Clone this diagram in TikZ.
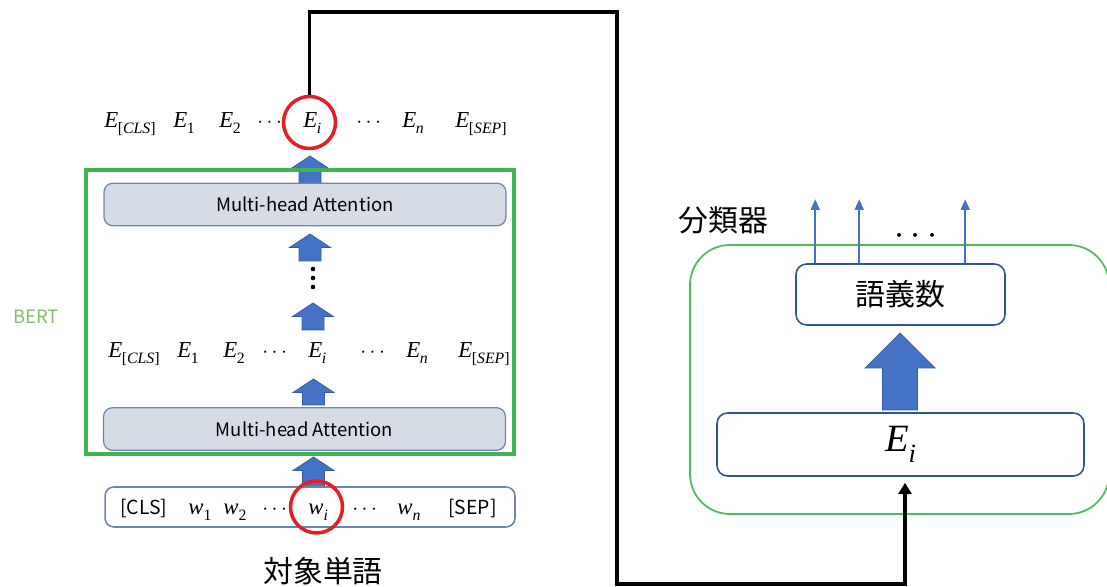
\documentclass[tikz,border=0pt]{standalone}
\usepackage{fontspec}
\setmainfont{Liberation Serif}
\newfontfamily\jpfont{Noto Sans CJK JP}
\usetikzlibrary{arrows.meta,calc}

\definecolor{bertgreen}{RGB}{64,178,84}
\definecolor{labelgreen}{RGB}{128,192,104}
\definecolor{clsgreen}{RGB}{76,188,92}
\definecolor{blkblue}{RGB}{68,114,196}
\definecolor{blkedge}{RGB}{52,92,164}
\definecolor{attnfill}{RGB}{214,220,229}
\definecolor{attnedge}{RGB}{112,132,172}
\definecolor{boxblue}{RGB}{47,85,151}
\definecolor{ringred}{RGB}{228,30,36}

% token with subscript
\newcommand{\Etok}[1]{\textit{E}\kern-0.02em\raisebox{-0.5ex}{\fontsize{9}{10}\selectfont #1}}
\newcommand{\wtok}[1]{\textit{w}\raisebox{-0.5ex}{\fontsize{9}{10}\selectfont #1}}
% block arrow pointing up: x, top, bottom
\newcommand{\blkup}[3]{\filldraw[blkarrow] (#1-11,#3) -- (#1-11,#2+13.5) -- (#1-20.5,#2+13.5) -- (#1,#2) -- (#1+20.5,#2+13.5) -- (#1+11,#2+13.5) -- (#1+11,#3) -- cycle;}

\tikzset{
  tok/.style={anchor=base west, inner sep=0pt, font=\fontsize{13}{15}\selectfont},
  sanstok/.style={anchor=base west, inner sep=0pt, font=\jpfont\fontsize{11}{13}\selectfont},
  attn/.style={draw=attnedge, fill=attnfill, rounded corners=5pt, line width=0.7pt,
    minimum width=8.04cm, minimum height=0.85cm, font=\jpfont\fontsize{10.5}{13}\selectfont},
  resbox/.style={draw=boxblue, fill=white, rounded corners=6pt, line width=0.9pt},
  blkarrow/.style={fill=blkblue, draw=blkedge, line width=0.4pt},
  ring/.style={circle, draw=ringred, line width=2pt, minimum size=1.04cm, inner sep=0pt},
  feed/.style={line width=2.2pt, -{Triangle[width=7.5pt,length=6.5pt]}},
  outarr/.style={draw=blkblue, line width=1.1pt, -{Triangle[width=5pt,length=6pt]}},
  jplabel/.style={font=\jpfont\fontsize{17}{20}\selectfont, inner sep=0pt}
}

\begin{document}
\begin{tikzpicture}[x=0.02cm, y=-0.02cm]
\useasboundingbox (0,0) rectangle (1107,587);
\clip (0,0) rectangle (1107,587);

% BERT side: block arrows first
\blkup{310}{156}{186}
\blkup{310}{234}{261}
\blkup{313}{303}{330}
\blkup{313.5}{379}{405}
\blkup{313.5}{457}{489}

\node[attn] (attn-top) at (305,204.5) {Multi-head Attention};
\node[attn] (attn-bot) at (304.5,429) {Multi-head Attention};
\node[draw=attnedge, fill=white, rounded corners=5pt, line width=0.9pt,
  minimum width=8.2cm, minimum height=0.8cm] (input) at (310,507) {};

\node[draw=bertgreen, line width=2pt, minimum width=8.56cm, minimum height=5.68cm,
  inner sep=0pt] (bert) at (300,312) {};
\node[font=\jpfont\fontsize{10.5}{12}\selectfont, text=labelgreen] (bert-label) at (36,316.5) {BERT};

% vertical dots
\foreach \y in {269,278,287}
  \fill (313,\y) circle (1.3pt);

% output row
\node[tok] (t-cls) at (104,128) {\Etok{[\textit{CLS}]}};
\node[tok] (t-1) at (173,128) {\Etok{1}};
\node[tok] (t-2) at (219,128) {\Etok{2}};
\node[tok] (t-d1) at (257,128) {$\cdots$};
\node[tok] (t-i) at (303,128) {\Etok{\textit{i}}};
\node[tok] (t-d2) at (356,128) {$\cdots$};
\node[tok] (t-n) at (402,128) {\Etok{\textit{n}}};
\node[tok] (t-sep) at (455,128) {\Etok{[\textit{SEP}]}};

% hidden row
\node[tok] (m-cls) at (108,358) {\Etok{[\textit{CLS}]}};
\node[tok] (m-1) at (177,358) {\Etok{1}};
\node[tok] (m-2) at (223,358) {\Etok{2}};
\node[tok] (m-d1) at (262,358) {$\cdots$};
\node[tok] (m-i) at (308,358) {\Etok{\textit{i}}};
\node[tok] (m-d2) at (360,358) {$\cdots$};
\node[tok] (m-n) at (406,358) {\Etok{\textit{n}}};
\node[tok] (m-sep) at (458,358) {\Etok{[\textit{SEP}]}};

% input row
\node[sanstok] (w-cls) at (120,515) {[CLS]};
\node[tok] (w-1) at (188,515) {\wtok{1}};
\node[tok] (w-2) at (223,515) {\wtok{2}};
\node[tok] (w-d1) at (262,515) {$\cdots$};
\node[tok] (w-i) at (308,515) {\wtok{\textit{i}}};
\node[tok] (w-d2) at (352,515) {$\cdots$};
\node[tok] (w-n) at (397,515) {\wtok{\textit{n}}};
\node[sanstok] (w-sep) at (448,515) {[SEP]};

\node[ring] (ring-top) at (309.5,122.5) {};
\node[ring] (ring-bot) at (316.5,507) {};
\node[jplabel] (target) at (323,571) {対象単語};

% classifier side
\draw[draw=clsgreen, line width=1pt, rounded corners=0.8cm] (690,245) rectangle (1109,514);
\node[jplabel] (cls-label) at (723.5,220) {分類器};

\filldraw[blkarrow] (882.5,410) -- (882.5,368) -- (865,368) -- (900,333) -- (935,368)
  -- (917.5,368) -- (917.5,410) -- cycle;

\node[resbox, minimum width=4.18cm, minimum height=1.22cm, font=\jpfont\fontsize{17}{20}\selectfont]
  (senses) at (900.5,294.5) {語義数};
\node[resbox, minimum width=7.34cm, minimum height=1.26cm, font=\fontsize{22}{26}\selectfont]
  (ei) at (900.5,444.5) {\textit{E}\raisebox{-0.6ex}{\fontsize{15}{17}\selectfont\textit{i}}};

\foreach \dx in {20,64,170}
  \draw[outarr] ($(senses.north west)+(\dx,0)$) -- ++(0,-64);
\node[font=\fontsize{22}{26}\selectfont, inner sep=0pt] (more) at (916,236) {$\cdots$};

% link from E_i to the classifier
\coordinate (feed-top) at (617,12);
\coordinate (feed-bot) at (617,584);
\draw[feed] (ring-top.north) |- (feed-top) -- (feed-bot) -| ($(ei.south)+(4.5,6)$);
\end{tikzpicture}
\end{document}
